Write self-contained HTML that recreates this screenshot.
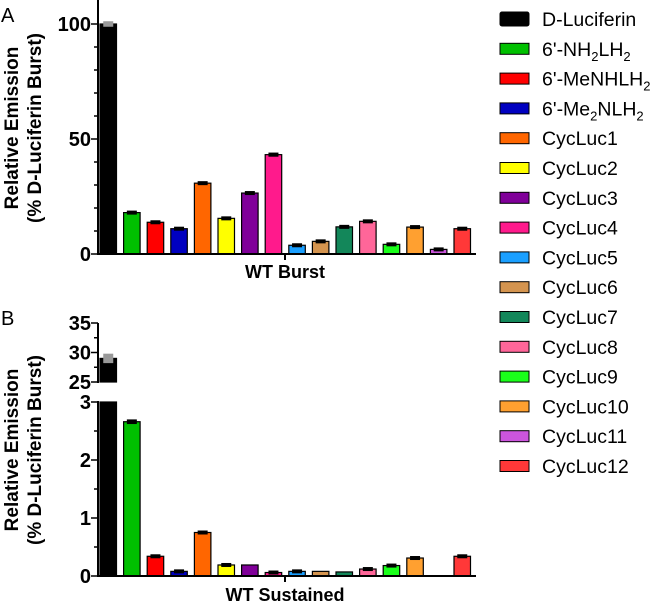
<!DOCTYPE html>
<html><head><meta charset="utf-8"><style>
body{margin:0;background:#fff;}
svg{display:block;font-family:"Liberation Sans",Arial,sans-serif;}
</style></head><body>
<svg id="chart" width="654" height="605"></svg>
<script>
const categories=["D-Luciferin","6'-NH2LH2","6'-MeNHLH2","6'-Me2NLH2","CycLuc1","CycLuc2","CycLuc3","CycLuc4","CycLuc5","CycLuc6","CycLuc7","CycLuc8","CycLuc9","CycLuc10","CycLuc11","CycLuc12"];
const colors=["#000000","#00c000","#ff0000","#0000c0","#ff6600","#ffff00","#800099","#ff1a8c","#1a9fff","#d4944f","#13875a","#ff6699","#1aff1a","#ffa030","#cc55dd","#ff3838"];
const burstValues=[100,18,13.8,11,30.8,15.5,26.5,43.2,3.8,5.5,11.8,14.2,4.2,11.7,2,11];
const burstErrors=[1.2,0.6,0.5,0.5,0.7,0.6,0.4,0.9,0.2,0.5,0.5,0.6,0.2,0.5,0.5,0.5];
const sustainedValues=[29,2.66,0.34,0.08,0.75,0.19,0.19,0.06,0.08,0.08,0.07,0.12,0.18,0.31,0,0.34];
const sustainedErrors=[0.8,0.04,0.02,0.02,0.03,0.02,0,0.02,0.02,0,0,0.03,0.03,0.02,0,0.03];
const burstTicks=[0,50,100];
const lowTicks=[0,1,2,3];
const highTicks=[25,30,35];

const NS="http://www.w3.org/2000/svg";
const svg=document.getElementById('chart');
function mk(tag,attrs,parent){const e=document.createElementNS(NS,tag);for(const k in attrs)e.setAttribute(k,attrs[k]);(parent||svg).appendChild(e);return e;}
function txt(s,x,y,attrs,parent){const t=mk('text',Object.assign({x:x,y:y},attrs),parent);t.textContent=s;return t;}

const x0=100,pitch=23.6,bw=16.5;
function xPos(i){return x0+i*pitch;}

// ---------- Panel A ----------
function yA(v){return 254-v*2.3;}
const gA=mk('g',{});


burstValues.forEach((v,i)=>{
  const r=mk('rect',{x:xPos(i),y:yA(v),width:bw,height:yA(0)-yA(v),fill:colors[i],stroke:'#000','stroke-width':1.2},gA);
  
  
  const e=burstErrors[i];
  const ec=i===0?'#999':'#000';
  const top=yA(v+e), h=Math.max(yA(v-e)-yA(v+e),4);
  const eb=mk('rect',{x:xPos(i)+bw/2-5,y:Math.min(top,yA(v)-2),width:10,height:h,fill:ec},gA);
  
  
});
mk('line',{x1:98,y1:0,x2:98,y2:255,stroke:'#000','stroke-width':2},gA);
mk('line',{x1:97,y1:254,x2:476,y2:254,stroke:'#000','stroke-width':2},gA);
mk('line',{x1:285,y1:254,x2:285,y2:260,stroke:'#000','stroke-width':2},gA);
for(let v=0;v<=100;v+=10){mk('line',{x1:v%50===0?91:94,y1:yA(v),x2:98,y2:yA(v),stroke:'#000','stroke-width':1.5},gA);}
burstTicks.forEach(v=>{const t=txt(String(v),91,yA(v)+7,{'text-anchor':'end','font-size':20,'font-weight':'bold'},gA);});
const la=txt('A',1,22,{'font-size':20},gA);
const ta=txt('WT Burst',285,278,{'text-anchor':'middle','font-size':18,'font-weight':'bold'},gA);
const ya=mk('text',{transform:'translate(18,128) rotate(-90)','text-anchor':'middle','font-size':19,'font-weight':'bold'},gA);

ya.innerHTML='<tspan x="0" y="0">Relative Emission</tspan><tspan x="0" y="23">(% D-Luciferin Burst)</tspan>';

// ---------- Panel B ----------
function yLow(v){return 576-v*58;}
function yHigh(v){return 382-(v-25)*5.9;}
const gB=mk('g',{});


sustainedValues.forEach((v,i)=>{
  const e=sustainedErrors[i];
  if(v>3){
    const r1=mk('rect',{x:xPos(i),y:yHigh(v),width:bw,height:382-yHigh(v),fill:colors[i],stroke:'#000','stroke-width':1.2},gB);
    
    const r2=mk('rect',{x:xPos(i),y:402,width:bw,height:174,fill:colors[i],stroke:'#000','stroke-width':1.2},gB);
    
    const eb=mk('rect',{x:xPos(i)+bw/2-5,y:yHigh(v+e),width:10,height:yHigh(v-e)-yHigh(v+e),fill:'#999'},gB);
    
  } else if(v>0){
    const r=mk('rect',{x:xPos(i),y:yLow(v),width:bw,height:yLow(0)-yLow(v),fill:colors[i],stroke:'#000','stroke-width':1.2},gB);
    
    if(e>0){const top=yLow(v+e),h=Math.max(yLow(v-e)-yLow(v+e),4);
    const eb=mk('rect',{x:xPos(i)+bw/2-5,y:Math.min(top,yLow(v)-2),width:10,height:h,fill:'#000'},gB);
    }
  }
});
mk('line',{x1:98,y1:323,x2:98,y2:383,stroke:'#000','stroke-width':2},gB);
mk('line',{x1:98,y1:401,x2:98,y2:577,stroke:'#000','stroke-width':2},gB);
mk('line',{x1:97,y1:576,x2:476,y2:576,stroke:'#000','stroke-width':2},gB);
mk('line',{x1:285,y1:576,x2:285,y2:582,stroke:'#000','stroke-width':2},gB);
for(let v=0;v<=3;v+=0.5){mk('line',{x1:v%1===0?91:94,y1:yLow(v),x2:98,y2:yLow(v),stroke:'#000','stroke-width':1.5},gB);}
for(let v=25;v<=35;v+=2.5){mk('line',{x1:v%5===0?91:94,y1:yHigh(v),x2:98,y2:yHigh(v),stroke:'#000','stroke-width':1.5},gB);}
lowTicks.forEach(v=>{const t=txt(String(v),91,yLow(v)+7,{'text-anchor':'end','font-size':20,'font-weight':'bold'},gB);});
highTicks.forEach(v=>{const t=txt(String(v),91,yHigh(v)+7,{'text-anchor':'end','font-size':20,'font-weight':'bold'},gB);});
const lb=txt('B',1,325,{'font-size':20},gB);
const tb=txt('WT Sustained',285,601,{'text-anchor':'middle','font-size':18,'font-weight':'bold'},gB);
const yb=mk('text',{transform:'translate(18,450) rotate(-90)','text-anchor':'middle','font-size':19,'font-weight':'bold'},gB);

yb.innerHTML='<tspan x="0" y="0">Relative Emission</tspan><tspan x="0" y="23">(% D-Luciferin Burst)</tspan>';

// ---------- Legend ----------
const gL=mk('g',{});


const labelHTML={"6'-NH2LH2":"6'-NH<tspan font-size='13' dy='5'>2</tspan><tspan dy='-5'>LH</tspan><tspan font-size='13' dy='5'>2</tspan>",
"6'-MeNHLH2":"6'-MeNHLH<tspan font-size='13' dy='5'>2</tspan>",
"6'-Me2NLH2":"6'-Me<tspan font-size='13' dy='5'>2</tspan><tspan dy='-5'>NLH</tspan><tspan font-size='13' dy='5'>2</tspan>"};
categories.forEach((c,i)=>{
  const cy=19+i*29.8;
  const g=mk('g',{},gL);
  
  
  const h=i===0?14:11;
  mk('rect',{x:500,y:cy-h/2,width:29,height:h,fill:colors[i],stroke:'#000','stroke-width':1,rx:i===0?2:0},g);
  const t=txt('',542,cy+7,{'font-size':19.5},g);
  t.innerHTML=labelHTML[c]||c;
});
</script>
</body></html>
